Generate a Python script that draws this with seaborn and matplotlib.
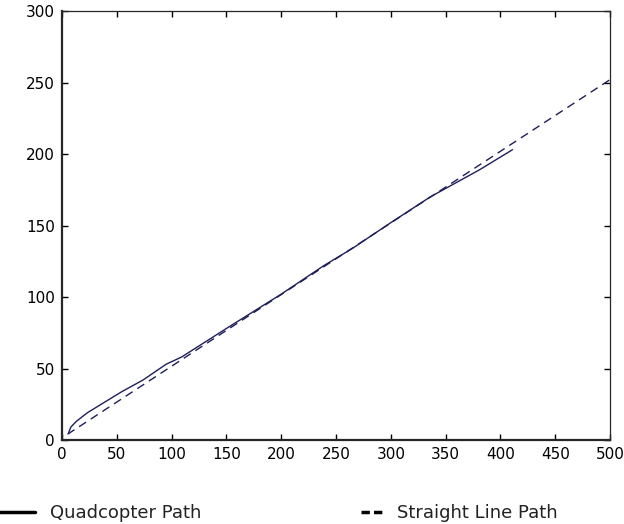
import numpy as np
import pandas as pd
import matplotlib
matplotlib.use("Agg")
import matplotlib.pyplot as plt
from matplotlib.lines import Line2D
import seaborn as sns

# quadcopter path
quad_x = [6, 8, 13, 23, 40, 55, 74, 95, 109, 150, 200, 239, 265, 300, 336, 381, 411]
quad_y = [5, 9, 13, 19, 27, 34, 42, 53, 58, 78, 102, 122, 134, 152, 170, 189, 203]

# straight line path
line_x = [5, 500]
line_y = [4, 252]

x_ticks = list(range(0, 501, 50))
y_ticks = list(range(0, 301, 50))

sns.set_style("ticks")
plt.rcParams["font.family"] = ["DejaVu Sans"]
plt.rcParams["xtick.direction"] = "in"
plt.rcParams["ytick.direction"] = "in"

quad = pd.DataFrame({"x": quad_x, "y": quad_y})
straight = pd.DataFrame({"x": line_x, "y": line_y})

fig = plt.figure(figsize=(6.24, 5.24), dpi=100)
ax = fig.add_axes([0.0994, 0.1603, 0.8782, 0.8187])

navy = "#1e1e5c"
sns.lineplot(data=quad, x="x", y="y", ax=ax, color=navy, lw=1.0, sort=False)
sns.lineplot(data=straight, x="x", y="y", ax=ax, color=navy, lw=1.0,
             linestyle=(0, (6, 4)), sort=False)

ax.set_xlim(0, 500)
ax.set_ylim(0, 300)
ax.set_xticks(x_ticks)
ax.set_yticks(y_ticks)
ax.set_xlabel("")
ax.set_ylabel("")
ax.tick_params(top=True, right=True, length=4, width=1, labelsize=11,
               colors="black", pad=5)
for side in ["left", "bottom"]:
    ax.spines[side].set_linewidth(1.6)
for side in ["top", "right"]:
    ax.spines[side].set_visible(True)
    ax.spines[side].set_linewidth(0.9)

h1 = [Line2D([], [], color="black", lw=2.5)]
h2 = [Line2D([], [], color="black", lw=2.5, linestyle=(0, (2.4, 1.2)))]
leg1 = fig.legend(h1, ["Quadcopter Path"], loc="center left",
                  bbox_to_anchor=(-0.002, 0.021), frameon=False, fontsize=13,
                  handlelength=2.0, handletextpad=0.85, borderpad=0, borderaxespad=0)
leg2 = fig.legend(h2, ["Straight Line Path"], loc="center left",
                  bbox_to_anchor=(0.578, 0.021), frameon=False, fontsize=13,
                  handlelength=1.3, handletextpad=0.7, borderpad=0, borderaxespad=0)
for leg in (leg1, leg2):
    for t in leg.get_texts():
        t.set_color("#222222")

fig.savefig("out.png", dpi=100)
